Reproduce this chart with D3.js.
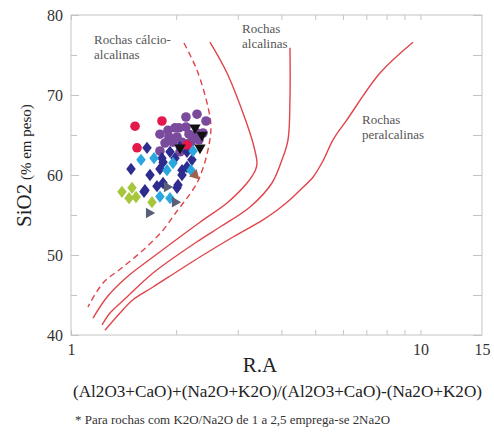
<!DOCTYPE html>
<html><head><meta charset="utf-8">
<script src="https://cdn.jsdelivr.net/npm/d3@7"></script>
<style>html,body{margin:0;padding:0;background:#fff;}svg{display:block;}</style>
</head><body>
<svg id="chart" width="494" height="432"></svg>
<script>
// ---- boundary curves [R.A, SiO2] ----
const curveCalcAlk = [[2.105,76.5],[2.294,73.1],[2.466,68.5],[2.515,66.0],[2.482,63.75],[2.402,61.25],[2.294,59.0],[2.147,57.1],[2.011,55.5],[1.834,53.1],[1.607,50.6],[1.399,48.4],[1.235,46.5],[1.118,43.5]];
const curveAlk1 = [[2.498,76.6],[2.795,72.75],[3.106,67.75],[3.317,64.0],[3.406,61.5],[3.37,60.6],[3.189,59.0],[2.795,56.5],[2.339,54.1],[1.717,49.75],[1.446,47.25],[1.268,44.75],[1.156,42.1]];
const curveAlk2 = [[4.233,75.9],[4.233,69.75],[4.178,64.4],[4.016,61.9],[3.759,59.0],[3.253,56.0],[2.669,53.5],[2.339,51.9],[1.717,47.75],[1.446,44.75],[1.293,42.75],[1.227,41.25]];
const curvePeralk = [[9.52,76.6],[7.66,72.75],[6.16,66.9],[5.62,64.4],[5.28,61.9],[4.93,59.75],[4.52,58.1],[4.233,56.9],[3.886,55.6],[3.543,54.4],[2.908,52.25],[2.339,49.75],[1.717,46.0],[1.504,44.4],[1.381,42.75],[1.251,40.6]];

// ---- samples [R.A, SiO2] ----
const redCircles = [[1.525,66.1],[1.821,66.75],[1.545,63.4],[2.147,63.75]];
const purpleCircles = [[2.133,67.25],[2.294,67.6],[2.434,66.75],[2.133,66.0],[2.037,65.9],[1.895,65.6],[1.797,65.1],[1.907,64.75],[2.011,64.75],[2.176,65.1],[2.294,65.25],[2.324,64.4],[2.204,64.1],[2.078,64.1],[1.958,64.1],[1.858,64.0],[1.797,63.0],[2.051,62.9],[2.386,65.25],[1.984,65.9],[2.234,64.6],[2.12,63.9]];
const navyDiamonds = [[1.650,63.4],[1.485,60.75],[1.683,60.0],[1.797,60.75],[1.834,61.6],[1.92,62.9],[1.984,62.1],[2.078,60.6],[2.147,62.9],[2.219,61.9],[1.628,58.1],[1.762,58.6],[1.834,59.0],[2.011,58.4],[1.821,62.1],[2.051,63.5],[2.147,61.0],[2.078,60.0],[2.024,58.75],[1.618,57.9]];
const cyanDiamonds = [[1.586,61.9],[1.728,62.1],[1.882,60.6],[1.958,61.5],[2.204,60.6],[2.234,63.0],[1.797,57.3],[1.92,57.1]];
const limeDiamonds = [[1.399,57.9],[1.495,58.4],[1.466,57.1],[1.535,57.25],[1.705,56.6]];
const blackTriangles = [[2.264,65.9],[2.37,65.0],[2.051,63.4],[2.339,63.4]];
const grayTriangles = [[1.672,55.25],[1.882,58.5],[1.984,56.6]];
const brownTriangles = [[2.264,60.0]];

// ---- ticks ----
const yMajorTicks = [40,50,60,70,80];
const yMinorTicks = [45,55,65,75];
const xTicks = [1,2,3,4,5,6,7,8,9,10];
const xTickLabels = {1:"1",10:"10"};

const svg = d3.select("#chart");
const L=71, R=482, T=15, B=335;
const x = d3.scaleLog().domain([1,15]).range([L,R]);
const y = d3.scaleLinear().domain([40,80]).range([B,T]);
const serif = "'Liberation Serif','Times New Roman',serif";
const frameCol = "#c4c4c4";

// axes
function styleAxis(g){
  g.select(".domain").remove();
  g.selectAll(".tick line").attr("stroke", frameCol);
  g.selectAll(".tick text").attr("font-family", serif).attr("fill","#333").attr("font-size",16);
}
svg.append("g").attr("transform",`translate(${L},0)`)
  .call(d3.axisLeft(y).tickValues(yMajorTicks).tickSize(-8).tickPadding(8).tickFormat(d3.format("d"))).call(styleAxis);
svg.append("g").attr("transform",`translate(${L},0)`)
  .call(d3.axisLeft(y).tickValues(yMinorTicks).tickSize(-6).tickFormat("")).call(styleAxis);
svg.append("g").attr("transform",`translate(${R},0)`)
  .call(d3.axisRight(y).tickValues(yMajorTicks.concat(yMinorTicks)).tickSize(-9).tickFormat("")).call(styleAxis);
svg.append("g").attr("transform",`translate(0,${B})`)
  .call(d3.axisBottom(x).tickValues(xTicks.concat([15])).tickSize(-5).tickPadding(9).tickFormat(d=> d===15?"15":(xTickLabels[d]||""))).call(styleAxis)
  .selectAll(".tick line").filter(d=>d===15).remove();
svg.append("g").attr("transform",`translate(0,${T})`)
  .call(d3.axisTop(x).tickValues(xTicks).tickSize(-5).tickFormat("")).call(styleAxis);

svg.append("rect").attr("x",L).attr("y",T).attr("width",R-L).attr("height",B-T)
  .attr("fill","none").attr("stroke",frameCol).attr("stroke-width",1);

// curves
const line = d3.line().x(d=>x(d[0])).y(d=>y(d[1])).curve(d3.curveCatmullRom.alpha(0.5));
const red = "#e0454b";
[curveAlk1, curveAlk2, curvePeralk].forEach(c=>{
  svg.append("path").attr("d", line(c)).attr("fill","none").attr("stroke",red).attr("stroke-width",1.4);
});
svg.append("path").attr("d", line(curveCalcAlk)).attr("fill","none").attr("stroke",red)
  .attr("stroke-width",1.4).attr("stroke-dasharray","6,4");

// region labels
const lab = svg.append("g").attr("font-family",serif).attr("font-size",13).attr("fill","#555");
lab.append("text").attr("x",94).attr("y",44).text("Rochas cálcio-");
lab.append("text").attr("x",94).attr("y",59).text("alcalinas");
lab.append("text").attr("x",242).attr("y",33).text("Rochas");
lab.append("text").attr("x",242).attr("y",48).text("alcalinas");
lab.append("text").attr("x",362).attr("y",124).text("Rochas");
lab.append("text").attr("x",362).attr("y",139).text("peralcalinas");

// markers
const pts = svg.append("g");
function circles(data, col){
  pts.selectAll(null).data(data).enter().append("circle")
    .attr("cx",d=>x(d[0])).attr("cy",d=>y(d[1])).attr("r",4.8).attr("fill",col);
}
function symbols(data, col, type, size, rot){
  pts.selectAll(null).data(data).enter().append("path")
    .attr("d", d3.symbol().type(type).size(size)())
    .attr("transform",d=>`translate(${x(d[0])},${y(d[1])}) rotate(${rot})`)
    .attr("fill",col);
}
const diamond = {draw(ctx,size){const r=Math.sqrt(size)/1.6; ctx.moveTo(0,-r*1.1);ctx.lineTo(r*0.85,0);ctx.lineTo(0,r*1.1);ctx.lineTo(-r*0.85,0);ctx.closePath();}};
circles(purpleCircles, "#7a4a9c");
symbols(limeDiamonds, "#a6c63c", diamond, 80, 0);
symbols(navyDiamonds, "#2e2c8e", diamond, 80, 0);
symbols(cyanDiamonds, "#2aa7de", diamond, 80, 0);
circles(redCircles, "#e3194b");
symbols(blackTriangles, "#111", d3.symbolTriangle, 55, 180);
symbols(grayTriangles, "#5b6079", d3.symbolTriangle, 50, 90);
symbols(brownTriangles, "#a0604c", d3.symbolTriangle, 50, 135);

// axis titles
const yl = svg.append("text").attr("transform","translate(31,227) rotate(-90)")
  .attr("font-family",serif).attr("fill","#222");
yl.append("tspan").attr("font-size",21).text("SiO");
yl.append("tspan").attr("font-size",21).text("2");
yl.append("tspan").attr("font-size",15).text(" (% em peso)");

svg.append("text").attr("x",260).attr("y",372).attr("text-anchor","middle")
  .attr("font-family",serif).attr("font-size",21).attr("fill","#222").text("R.A");
svg.append("text").attr("x",73).attr("y",397).attr("textLength",409).attr("lengthAdjust","spacingAndGlyphs")
  .attr("font-family",serif).attr("font-size",16.5).attr("fill","#222")
  .text("(Al2O3+CaO)+(Na2O+K2O)/(Al2O3+CaO)-(Na2O+K2O)");
svg.append("text").attr("x",75).attr("y",424).attr("textLength",315).attr("lengthAdjust","spacingAndGlyphs")
  .attr("font-family",serif).attr("font-size",12.5).attr("fill","#333")
  .text("* Para rochas com K2O/Na2O de 1 a 2,5 emprega-se 2Na2O");
</script>
</body></html>
